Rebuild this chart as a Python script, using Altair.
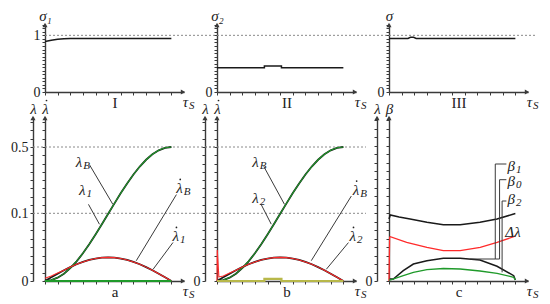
import altair as alt
import pandas as pd

# ---------------- data ----------------
# top row: sigma curves, x in tau_S units
SIG1_U = [0, 0.5, 1, 1.5, 2, 10]
SIG1_V = [0.89, 0.915, 0.93, 0.94, 0.945, 0.945]
SIG2_U = [0, 3.75, 3.75, 5.1, 5.1, 10]
SIG2_V = [0.43, 0.43, 0.46, 0.46, 0.43, 0.43]
SIG3_U = [0, 1.5, 1.7, 1.95, 2.15, 10]
SIG3_V = [0.945, 0.945, 0.965, 0.965, 0.945, 0.945]
SIG_REF = [1.0]

# bottom row, panels a and b
U = [0, 0.5, 1, 1.5, 2, 2.5, 3, 3.5, 4, 4.5, 5, 5.5, 6, 6.5, 7, 7.5, 8, 8.5, 9, 9.5, 10]
LAM_B = [0, 0.0012, 0.0049, 0.0108, 0.0190, 0.0291, 0.0409, 0.0542, 0.0686, 0.0837, 0.0993,
         0.160, 0.222, 0.280, 0.334, 0.382, 0.423, 0.456, 0.480, 0.495, 0.5]
LAM_1 = [0, 0.0013, 0.0050, 0.0109, 0.0191, 0.0292, 0.0410, 0.0543, 0.0687, 0.0838, 0.0994,
         0.161, 0.222, 0.280, 0.334, 0.382, 0.423, 0.456, 0.480, 0.495, 0.5]
LAM_2 = [0, 0.0013, 0.0050, 0.0109, 0.0191, 0.0292, 0.0410, 0.0543, 0.0687, 0.0838, 0.0994,
         0.161, 0.222, 0.280, 0.334, 0.382, 0.423, 0.456, 0.480, 0.495, 0.5]
LDOT_B = [0, 0.0055, 0.0108, 0.0158, 0.0205, 0.0247, 0.0282, 0.0311, 0.0332, 0.0345, 0.0349,
          0.0345, 0.0332, 0.0311, 0.0282, 0.0247, 0.0205, 0.0158, 0.0108, 0.0055, 0]
LDOT_1 = [0.004, 0.0075, 0.0118, 0.0160, 0.0205, 0.0247, 0.0282, 0.0311, 0.0332, 0.0345, 0.0349,
          0.0345, 0.0332, 0.0311, 0.0282, 0.0247, 0.0205, 0.0158, 0.0108, 0.0055, 0]
LDOT2_U = [0, 0.02, 0.15, 0.5, 1, 1.5, 2, 2.5, 3, 3.5, 4, 4.5, 5, 5.5, 6, 6.5, 7, 7.5, 8, 8.5, 9, 9.5, 10]
LDOT_2 = [0, 0.0456, 0.006, 0.0075, 0.0118, 0.0160, 0.0205, 0.0247, 0.0282, 0.0311, 0.0332, 0.0345,
          0.0349, 0.0345, 0.0332, 0.0311, 0.0282, 0.0247, 0.0205, 0.0158, 0.0108, 0.0055, 0]
BASE_U = [0, 10]
BASE_V = [0, 0]
STEP_U = [0, 3.75, 3.75, 5.1, 5.1, 10]
STEP_V = [0, 0, 0.003, 0.003, 0, 0]
LAM_REF = [0.1, 0.5]

# panel c
C_TOP_U = [0, 0.1, 0.8, 1.67, 3.0, 4.3, 5.63, 7.2, 8.55, 9.87, 10]
C_TOP_V = [0.62, 0.66, 0.64, 0.62, 0.587, 0.563, 0.563, 0.587, 0.62, 0.67, 0.675]
C_DL_U = [0, 0.05, 0.1, 1.4, 3.0, 4.3, 5.63, 7.22, 8.55, 9.87, 10]
C_DL_V = [0, 0.437, 0.443, 0.387, 0.337, 0.303, 0.303, 0.337, 0.387, 0.443, 0.45]
C_HUMP_U = [0, 0.34, 1.13, 1.93, 3.0, 4.3, 5.63, 7.2, 8.55, 9.87, 10]
C_HUMP_V = [0.02, 0.02, 0.103, 0.17, 0.203, 0.227, 0.227, 0.21, 0.147, 0.053, 0.01]
C_GR_U = [0, 0.2, 1.13, 1.93, 3.0, 4.3, 5.63, 7.2, 8.55, 9.87, 10]
C_GR_V = [0.01, 0.013, 0.053, 0.087, 0.113, 0.125, 0.12, 0.10, 0.077, 0.037, 0.01]

# curve labels (main glyph, dot accent flag, subscript) and leader lines
A_LAB_U = [2.95, 3.2, 10.9, 10.6]
A_LAB_V = [0.412, 0.243, 0.253, 0.0666]
A_LAB_T = ["λ", "λ", "λ", "λ"]
A_LAB_D = [0, 0, 1, 1]
A_LAB_S = ["B", "1", "B", "1"]
A_LEAD_G = [0, 0, 1, 1, 2, 2, 3, 3]
A_LEAD_U = [3.52, 5.37, 3.44, 4.31, 10.4, 7.22, 10.13, 8.55]
A_LEAD_V = [0.393, 0.154, 0.154, 0.0838, 0.213, 0.0299, 0.0569, 0.0172]

B_LAB_U = [3.3, 3.3, 11.25, 11.0]
B_LAB_V = [0.412, 0.194, 0.243, 0.0666]
B_LAB_T = ["λ", "λ", "λ", "λ"]
B_LAB_D = [0, 0, 1, 1]
B_LAB_S = ["B", "2", "B", "2"]
B_LEAD_G = [0, 0, 1, 1, 2, 2, 3, 3]
B_LEAD_U = [3.7, 5.34, 3.49, 4.29, 10.63, 7.46, 10.4, 8.65]
B_LEAD_V = [0.383, 0.154, 0.154, 0.084, 0.204, 0.030, 0.0567, 0.0173]

C_LAB_U = [9.97, 9.97, 9.97, 10.42]
C_LAB_V = [1.153, 1.003, 0.82, 0.487]
C_LAB_T = ["β", "β", "β", "Δλ"]
C_LAB_D = [0, 0, 0, 0]
C_LAB_S = ["1", "0", "2", ""]
C_LEAD_G = [0, 0, 0, 0, 1, 1, 1, 1, 2, 2, 2]
C_LEAD_U = [9.29, 8.41, 8.41, 6.43, 9.29, 8.75, 8.75, 8.41, 9.29, 8.95, 8.95]
C_LEAD_V = [1.17, 1.17, 0.22, 0.22, 1.013, 1.013, 0.22, 0.22, 0.80, 0.80, 0.087]

# ---------------- styling ----------------
SERIF = "Liberation Serif"
AX = "#3a3a3a"
TXT = "#222222"
BLACK = "#1a1a1a"
GREEN = "#1f9a2a"
RED = "#ff2a2a"
OLIVE = "#b8b84a"
DASH = "#8a8a8a"
W = 139
HT = 68
HB = 164
GAP_C = 33

XS = alt.Scale(domain=[0, 11], nice=False, zero=False)
X_TICKS = list(range(11))
TOP_TICKS = [i / 16 for i in range(20)]
LAM_TICKS = ([round(0.0125 * i, 4) for i in range(9)]
             + [round(0.1 + 0.05 * i, 4) for i in range(1, 9)]
             + [0.55, 0.6, 0.65])
C_TICKS = [round(0.0846 * i, 4) for i in range(20)]
TOP_SCALE = dict(domain=[0, 1.2], nice=False, zero=False)
LAM_SCALE = dict(domain=[0, 0.1, 0.5, 0.681], range=[HB, HB - 67.7, 30, 0], nice=False, zero=False)
C_SCALE = dict(domain=[0, 1.64], nice=False, zero=False)


def common():
    return dict(domainColor=AX, domainWidth=1.4, tickColor=AX, tickWidth=1, tickSize=3,
                grid=False, labelFont=SERIF, labelFontSize=14, labelColor=TXT,
                labelOverlap=False, labelPadding=2, titleFont=SERIF,
                titleFontWeight="normal", titleColor=TXT)


def x_axis(title):
    return alt.Axis(values=X_TICKS, labels=False, title=title, titleFontSize=15,
                    titleFontStyle="normal", titleBaseline="top", titleY=3, **common())


def y_axis(values, expr, title, offset=0, labels=True):
    return alt.Axis(values=values, labelExpr=expr, labels=labels, offset=offset, orient="left",
                    title=title, titleAngle=0, titleX=0, titleY=-4, titleAlign="center",
                    titleBaseline="alphabetic", titleFontStyle="italic", titleFontSize=15,
                    **common())


def df(u, v):
    return pd.DataFrame({"u": u, "v": v})


def text_layers(data, X, Yf, size=15, subsize=11):
    main = alt.Chart(data).mark_text(font=SERIF, fontStyle="italic", fontSize=size, color=TXT,
                                     align="right", baseline="middle").encode(
        x=X, y=Yf(), text="t:N")
    sub = alt.Chart(data).mark_text(font=SERIF, fontStyle="italic", fontSize=subsize, color=TXT,
                                    align="left", baseline="middle", dx=1, dy=4).encode(
        x=X, y=Yf(), text="s:N")
    out = [main, sub]
    dots = data[data["d"] == 1]
    if len(dots):
        out.append(alt.Chart(dots).mark_point(shape="circle", filled=True, size=3, color=TXT,
                                              opacity=1, xOffset=-2.5, yOffset=-8.5).encode(
            x=X, y=Yf()))
    return out


def title_dot(X, Yf, top):
    return alt.Chart(df([0], [top])).mark_point(shape="circle", filled=True, size=3, color=TXT,
                                                opacity=1, xOffset=1.5, yOffset=-16.5).encode(
        x=X, y=Yf())


def tau_layers(X, Yf):
    d = pd.DataFrame({"u": [11], "v": [0], "t": ["τ"], "s": ["S"]})
    main = alt.Chart(d).mark_text(font=SERIF, fontStyle="italic", fontSize=15, color=TXT,
                                  align="right", baseline="middle", dx=4, dy=10).encode(
        x=X, y=Yf(), text="t:N")
    sub = alt.Chart(d).mark_text(font=SERIF, fontStyle="italic", fontSize=11, color=TXT,
                                 align="left", baseline="middle", dx=5, dy=14).encode(
        x=X, y=Yf(), text="s:N")
    return [main, sub]


def arrows(X, Yf, top, lam_offset=None):
    out = [
        alt.Chart(df([0], [top])).mark_point(shape="triangle-up", filled=True, size=26, color=AX,
                                             opacity=1, yOffset=1).encode(x=X, y=Yf()),
        alt.Chart(df([11], [0])).mark_point(shape="triangle-right", filled=True, size=26, color=AX,
                                            opacity=1, xOffset=-1).encode(x=X, y=Yf()),
    ]
    if lam_offset is not None:
        out.append(alt.Chart(df([0], [top])).mark_point(shape="triangle-up", filled=True, size=26,
                                                        color=AX, opacity=1, yOffset=1,
                                                        xOffset=-lam_offset).encode(x=X, y=Yf()))
    return out


def top_panel(u, v, title, expr, roman, ext):
    X = alt.X("u:Q", scale=XS, axis=x_axis(roman))
    yax = y_axis(TOP_TICKS, expr, title)

    def Yf(axis=yax):
        return alt.Y("v:Q", scale=alt.Scale(**TOP_SCALE), axis=axis)

    layers = [
        alt.Chart(pd.DataFrame({"v": SIG_REF})).mark_rule(color=DASH, strokeDash=[2, 2], strokeWidth=1)
        .encode(y=Yf(), x=alt.value(0), x2=alt.value(ext)),
        alt.Chart(df(u, v)).mark_line(color=BLACK, strokeWidth=1.5).encode(x=X, y=Yf()),
    ]
    layers += arrows(X, Yf, 1.2)
    layers += tau_layers(X, Yf)
    return alt.layer(*layers).properties(width=W, height=HT)


def bottom_panel(scale, ticks, lam_expr, lam_title, dot_title, dotted, xtitle, curves,
                 lab, lead, ref_vals=None, ref_ext=None):
    X = alt.X("u:Q", scale=XS, axis=x_axis(xtitle))
    top = scale["domain"][-1]

    def Yf(axis=None):
        return alt.Y("v:Q", scale=alt.Scale(**scale), axis=axis)

    lam_ax = y_axis(ticks, lam_expr, lam_title, offset=12)
    dot_ax = y_axis(ticks, "''", dot_title, offset=0, labels=False)
    layers = []
    queue = [lam_ax, dot_ax]
    if ref_vals:
        layers.append(alt.Chart(pd.DataFrame({"v": ref_vals}))
                      .mark_rule(color=DASH, strokeDash=[2, 2], strokeWidth=1)
                      .encode(y=Yf(queue.pop(0)), x=alt.value(-12), x2=alt.value(ref_ext)))
    for (u, v, color, w) in curves:
        ax = queue.pop(0) if queue else None
        layers.append(alt.Chart(df(u, v)).mark_line(color=color, strokeWidth=w)
                      .encode(x=X, y=Yf(ax)))
    lu, lv, lt, ld, ls = lab
    layers += text_layers(pd.DataFrame({"u": lu, "v": lv, "t": lt, "d": ld, "s": ls}), X, Yf)
    g, gu, gv = lead
    layers.append(alt.Chart(pd.DataFrame({"g": g, "u": gu, "v": gv, "i": list(range(len(g)))}))
                  .mark_line(color=AX, strokeWidth=1)
                  .encode(x=X, y=Yf(), detail="g:N", order="i:Q"))
    layers += arrows(X, Yf, top, lam_offset=12)
    layers += tau_layers(X, Yf)
    if dotted:
        layers.append(title_dot(X, Yf, top))
    return alt.layer(*layers).resolve_scale(y="independent").properties(width=W, height=HB)


p1 = top_panel(SIG1_U, SIG1_V, "σ₁", "datum.value == 0 ? '0' : (datum.value == 1 ? '1' : '')", "I", W + GAP_C)
p2 = top_panel(SIG2_U, SIG2_V, "σ₂", "datum.value == 0 ? '0' : ''", "II", W + GAP_C)
p3 = top_panel(SIG3_U, SIG3_V, "σ", "datum.value == 0 ? '0' : ''", "III", 147)

pa = bottom_panel(
    LAM_SCALE, LAM_TICKS,
    "datum.value == 0 ? '0' : (datum.value == 0.1 ? '0.1' : (datum.value == 0.5 ? '0.5' : ''))",
    "λ", "λ", True, "a",
    [(U, LDOT_B, BLACK, 1.8), (U, LAM_B, BLACK, 1.8), (U, LAM_1, GREEN, 1.1),
     (U, LDOT_1, RED, 1.1), (BASE_U, BASE_V, GREEN, 2.2)],
    (A_LAB_U, A_LAB_V, A_LAB_T, A_LAB_D, A_LAB_S), (A_LEAD_G, A_LEAD_U, A_LEAD_V),
    ref_vals=LAM_REF, ref_ext=W + GAP_C)

pb = bottom_panel(
    LAM_SCALE, LAM_TICKS, "datum.value == 0 ? '0' : ''", "λ", "λ", True, "b",
    [(U, LDOT_B, BLACK, 1.8), (U, LAM_B, BLACK, 1.8), (U, LAM_2, GREEN, 1.1),
     (LDOT2_U, LDOT_2, RED, 1.1), (STEP_U, STEP_V, OLIVE, 2.2)],
    (B_LAB_U, B_LAB_V, B_LAB_T, B_LAB_D, B_LAB_S), (B_LEAD_G, B_LEAD_U, B_LEAD_V),
    ref_vals=LAM_REF, ref_ext=149)

pc = bottom_panel(
    C_SCALE, C_TICKS, "datum.value == 0 ? '0' : ''", "λ", "β", False, "c",
    [(C_TOP_U, C_TOP_V, BLACK, 1.5), (C_HUMP_U, C_HUMP_V, BLACK, 1.5),
     (C_DL_U, C_DL_V, RED, 1.3), (C_GR_U, C_GR_V, GREEN, 1.3)],
    (C_LAB_U, C_LAB_V, C_LAB_T, C_LAB_D, C_LAB_S), (C_LEAD_G, C_LEAD_U, C_LEAD_V))

chart = alt.concat(p1, p2, p3, pa, pb, pc, columns=3,
                   spacing={"row": 25, "column": GAP_C}, bounds="flush").properties(
    padding={"left": 2, "top": 0, "right": 0, "bottom": 0}
).configure_view(stroke=None)

chart.save("out.html", embed_options={"renderer": "svg", "actions": False})
